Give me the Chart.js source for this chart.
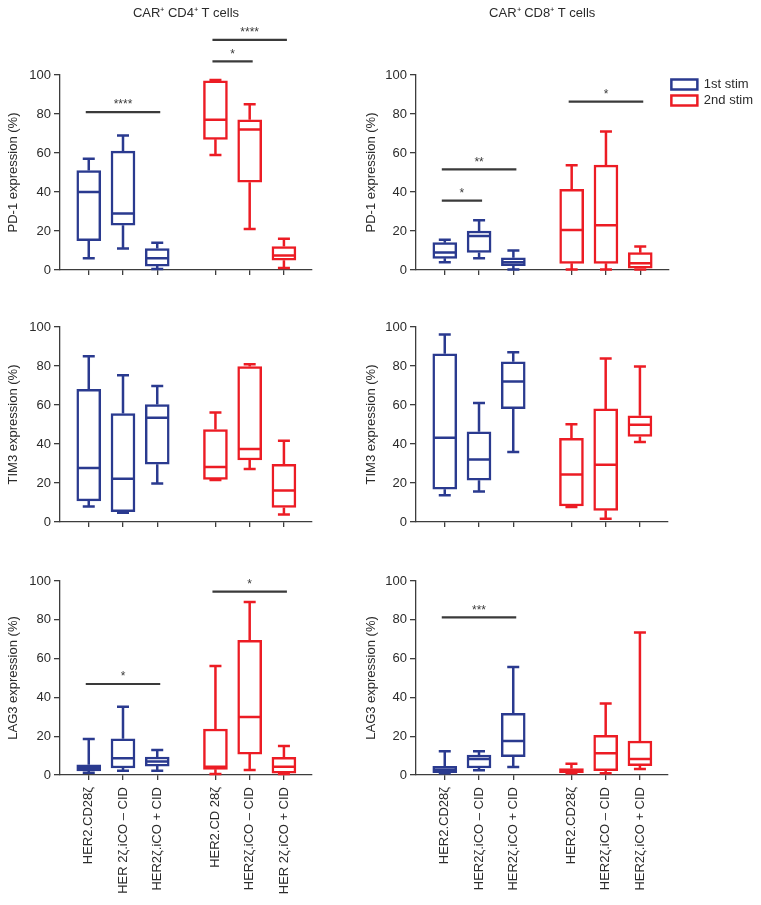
<!DOCTYPE html>
<html>
<head>
<meta charset="utf-8">
<script src="https://cdn.jsdelivr.net/npm/chart.js@4.4.1/dist/chart.umd.min.js"></script>
<style>
  html, body { margin: 0; padding: 0; background: #fff; width: 761px; height: 905px; overflow: hidden; }
  canvas { position: absolute; }
</style>
</head>
<body>
<canvas id="pd1Cd4" width="355" height="290" style="left:0;top:0"></canvas>
<canvas id="pd1Cd8" width="413" height="290" style="left:350px;top:0"></canvas>
<canvas id="tim3Cd4" width="355" height="250" style="left:0;top:290px"></canvas>
<canvas id="tim3Cd8" width="413" height="250" style="left:350px;top:290px"></canvas>
<canvas id="lag3Cd4" width="355" height="365" style="left:0;top:540px"></canvas>
<canvas id="lag3Cd8" width="413" height="365" style="left:350px;top:540px"></canvas>
<script>
// groups on the x axis
const categoriesCd4 = ['HER2.CD28ζ', 'HER 2ζ.iCO – CID', 'HER2ζ.iCO + CID', 'HER2.CD 28ζ', 'HER2ζ.iCO – CID', 'HER 2ζ.iCO + CID'];
const categoriesCd8 = ['HER2.CD28ζ', 'HER2ζ.iCO – CID', 'HER2ζ.iCO + CID', 'HER2.CD28ζ', 'HER2ζ.iCO – CID', 'HER2ζ.iCO + CID'];
const seriesNames = ['1st stim', '2nd stim'];
const yTicks = [0, 20, 40, 60, 80, 100];

// box stats per group: [min, q1, median, q3, max]
const pd1Cd4First = [[6, 15, 40, 51, 57], [11, 23, 29, 61, 69], [0.5, 2, 6, 11, 14]];
const pd1Cd4Second = [[59, 67, 77, 97, 97.5], [21, 45, 72, 77, 85], [1, 5, 7.5, 12, 16]];
const pd1Cd8First = [[4, 6, 9, 14, 15.5], [6, 9, 17.5, 20, 25.5], [0.3, 2.2, 4, 6.3, 10]];
const pd1Cd8Second = [[0.3, 3.4, 20.5, 41.4, 53.7], [0.3, 3.4, 22.9, 53.8, 71], [0.3, 0.9, 3.4, 8.9, 12]];
const tim3Cd4First = [[8, 10.8, 27.7, 68, 85], [4.8, 5.3, 22.2, 55.6, 75.2], [19.7, 29.6, 53.5, 60.2, 69.7]];
const tim3Cd4Second = [[21.5, 21.9, 28.2, 47.4, 56.2], [27.2, 31.8, 37.4, 79.7, 80.9], [3.9, 7.5, 16.1, 29.6, 41.7]];
const tim3Cd8First = [[13.7, 16.8, 43.2, 86.3, 96.2], [15.6, 21.4, 32.1, 46.3, 61], [35.9, 58.1, 72.1, 82.2, 87]];
const tim3Cd8Second = [[7.7, 8.2, 24.4, 42.9, 50.1], [1.7, 6, 29.4, 58, 83.8], [41, 43.9, 49.9, 54.5, 79.8]];
const lag3Cd4First = [[1.2, 2.1, 3.8, 5.3, 18.6], [2.2, 3.6, 8.6, 18.7, 35.2], [2.2, 4.6, 7, 9.3, 12.9]];
const lag3Cd4Second = [[0.5, 2.9, 4.3, 23.7, 56.2], [2.6, 10.8, 29.9, 69.4, 89.2], [0.5, 0.9, 4.3, 9.1, 15]];
const lag3Cd8First = [[0.9, 1.2, 2.7, 4.5, 12.2], [2.4, 3.6, 8.2, 10.3, 12.2], [4.1, 9.5, 17.5, 31.8, 55.7]];
const lag3Cd8Second = [[0.9, 1.2, 2.1, 3.3, 5.8], [0.9, 2.2, 11.2, 20.4, 36.8], [3.1, 4.8, 8.2, 17.5, 73.4]];

// significance bars: [from group, to group, height, label]
const pd1Cd4Sig = [[0, 2, 81, '****'], [3, 4, 107, '*'], [3, 5, 118, '****']];
const pd1Cd8Sig = [[0, 1, 35.6, '*'], [0, 2, 51.6, '**'], [3, 5, 86.3, '*']];
const lag3Cd4Sig = [[0, 2, 46.9, '*'], [3, 5, 94.5, '*']];
const lag3Cd8Sig = [[0, 2, 81.3, '***']];

// x position of each group (gap between the two stims)
const groupX = [1, 2, 3, 4.7, 5.7, 6.7];

const FONT = "'Liberation Sans', Arial, sans-serif";
const BLUE = '#2a3a8f';
const RED = '#ec1c24';
const AXIS = '#3d3d3d';
const TEXT = '#2b2b2b';

Chart.defaults.font.family = FONT;
Chart.defaults.font.size = 13;
Chart.defaults.color = TEXT;

// whiskers + medians, from the dataset stats through the scales
const boxWhiskers = {
    id: 'boxWhiskers',
    afterDatasetsDraw(chart) {
        const ctx = chart.ctx;
        const x = chart.scales.x, y = chart.scales.y;
        ctx.save();
        ctx.lineWidth = 2.5;
        chart.data.datasets.forEach(ds => {
            ctx.strokeStyle = ds.borderColor;
            ds.stats.forEach((s, i) => {
                const px = x.getPixelForValue(ds.data[i].x);
                const half = ds.barThickness / 2 - 1;
                const cap = 6;
                ctx.beginPath();
                // upper whisker
                ctx.moveTo(px, y.getPixelForValue(s[3]));
                ctx.lineTo(px, y.getPixelForValue(s[4]));
                ctx.moveTo(px - cap, y.getPixelForValue(s[4]));
                ctx.lineTo(px + cap, y.getPixelForValue(s[4]));
                // lower whisker
                ctx.moveTo(px, y.getPixelForValue(s[1]));
                ctx.lineTo(px, y.getPixelForValue(s[0]));
                ctx.moveTo(px - cap, y.getPixelForValue(s[0]));
                ctx.lineTo(px + cap, y.getPixelForValue(s[0]));
                // median
                ctx.moveTo(px - half, y.getPixelForValue(s[2]));
                ctx.lineTo(px + half, y.getPixelForValue(s[2]));
                ctx.stroke();
            });
        });
        ctx.restore();
    }
};

// significance brackets
const sigBars = {
    id: 'sigBars',
    afterDraw(chart, args, opts) {
        if (!opts.items || !opts.items.length) return;
        const ctx = chart.ctx;
        const x = chart.scales.x, y = chart.scales.y;
        ctx.save();
        ctx.strokeStyle = '#3a3a3a';
        ctx.fillStyle = '#3a3a3a';
        ctx.lineWidth = 2.2;
        ctx.font = '12px ' + FONT;
        ctx.textAlign = 'center';
        ctx.textBaseline = 'bottom';
        opts.items.forEach(([a, b, v, label]) => {
            const x1 = x.getPixelForValue(groupX[a]) - 3;
            const x2 = x.getPixelForValue(groupX[b]) + 3;
            const py = y.getPixelForValue(v);
            ctx.beginPath();
            ctx.moveTo(x1, py);
            ctx.lineTo(x2, py);
            ctx.stroke();
            ctx.fillText(label, (x1 + x2) / 2, py - 1);
        });
        ctx.restore();
    }
};

function boxDataset(label, stats, offset, color) {
    return {
        label: label,
        data: stats.map((s, i) => ({ x: groupX[offset + i], y: [s[1], s[3]] })),
        stats: stats,
        borderColor: color,
        backgroundColor: '#ffffff',
        borderWidth: 2.5,
        borderSkipped: false,
        barThickness: 24,
        grouped: false
    };
}

function makePanel(p) {
    const canvas = document.getElementById(p.id);
    new Chart(canvas, {
        type: 'bar',
        data: {
            datasets: [
                boxDataset(seriesNames[0], p.first, 0, BLUE),
                boxDataset(seriesNames[1], p.second, 3, RED)
            ]
        },
        options: {
            responsive: false,
            animation: false,
            devicePixelRatio: 1,
            clip: false,
            layout: { padding: p.padding },
            scales: {
                x: {
                    type: 'linear',
                    min: 0.16,
                    max: 7.52,
                    offset: false,
                    afterFit: s => { s.height = p.xHeight; },
                    afterBuildTicks: s => { s.ticks = groupX.map(v => ({ value: v })); },
                    grid: { offset: false, drawOnChartArea: false, drawTicks: true, tickLength: 5, color: AXIS, lineWidth: 1.3 },
                    border: { display: true, color: AXIS, width: 1.3 },
                    ticks: {
                        display: !!p.categories,
                        autoSkip: false,
                        minRotation: 90,
                        maxRotation: 90,
                        padding: 7,
                        color: TEXT,
                        font: { size: 13 },
                        callback: (v, i) => p.categories ? p.categories[i] : ''
                    }
                },
                y: {
                    min: 0,
                    max: 100,
                    afterFit: s => { s.width = p.yWidth; },
                    afterBuildTicks: s => { s.ticks = yTicks.map(v => ({ value: v })); },
                    grid: { drawOnChartArea: false, drawTicks: true, tickLength: 6, color: AXIS, lineWidth: 1.3 },
                    border: { display: true, color: AXIS, width: 1.3 },
                    ticks: { padding: 3, color: TEXT, font: { size: 13 } },
                    title: {
                        display: true,
                        text: p.yTitle,
                        color: TEXT,
                        font: { size: 13 },
                        padding: { top: p.titlePad, bottom: 0 }
                    }
                }
            },
            plugins: {
                legend: p.legend ? {
                    display: true,
                    position: 'right',
                    align: 'start',
                    fullSize: false,
                    labels: { boxWidth: 26, boxHeight: 10, padding: 3, color: TEXT, font: { size: 13 } }
                } : { display: false },
                title: p.title ? {
                    display: true,
                    text: p.title,
                    fullSize: false,
                    color: TEXT,
                    font: { size: 13, weight: 'normal' },
                    padding: { top: 6, bottom: 53.4 }
                } : { display: false },
                tooltip: { enabled: false },
                sigBars: { items: p.sig || [] }
            }
        },
        plugins: [boxWhiskers, sigBars]
    });
}

const panels = [
    { id: 'pd1Cd4', first: pd1Cd4First, second: pd1Cd4Second, sig: pd1Cd4Sig, yTitle: 'PD-1 expression (%)',
      title: 'CAR⁺ CD4⁺ T cells', padding: { top: 0, right: 43, bottom: 0, left: 0 }, yWidth: 60, titlePad: 6, xHeight: 20 },
    { id: 'pd1Cd8', first: pd1Cd8First, second: pd1Cd8Second, sig: pd1Cd8Sig, yTitle: 'PD-1 expression (%)',
      title: 'CAR⁺ CD8⁺ T cells', legend: true, padding: { top: 0, right: 0, bottom: 0, left: 0 }, yWidth: 66, titlePad: 14, xHeight: 20 },
    { id: 'tim3Cd4', first: tim3Cd4First, second: tim3Cd4Second, yTitle: 'TIM3 expression (%)',
      padding: { top: 37, right: 43, bottom: 0, left: 0 }, yWidth: 60, titlePad: 6, xHeight: 18 },
    { id: 'tim3Cd8', first: tim3Cd8First, second: tim3Cd8Second, yTitle: 'TIM3 expression (%)',
      padding: { top: 37, right: 95, bottom: 0, left: 0 }, yWidth: 66, titlePad: 14, xHeight: 18 },
    { id: 'lag3Cd4', first: lag3Cd4First, second: lag3Cd4Second, sig: lag3Cd4Sig, yTitle: 'LAG3 expression (%)',
      categories: categoriesCd4, padding: { top: 41, right: 43, bottom: 0, left: 0 }, yWidth: 60, titlePad: 6, xHeight: 130 },
    { id: 'lag3Cd8', first: lag3Cd8First, second: lag3Cd8Second, sig: lag3Cd8Sig, yTitle: 'LAG3 expression (%)',
      categories: categoriesCd8, padding: { top: 41, right: 95, bottom: 0, left: 0 }, yWidth: 66, titlePad: 14, xHeight: 130 }
];

panels.forEach(makePanel);
</script>
</body>
</html>
